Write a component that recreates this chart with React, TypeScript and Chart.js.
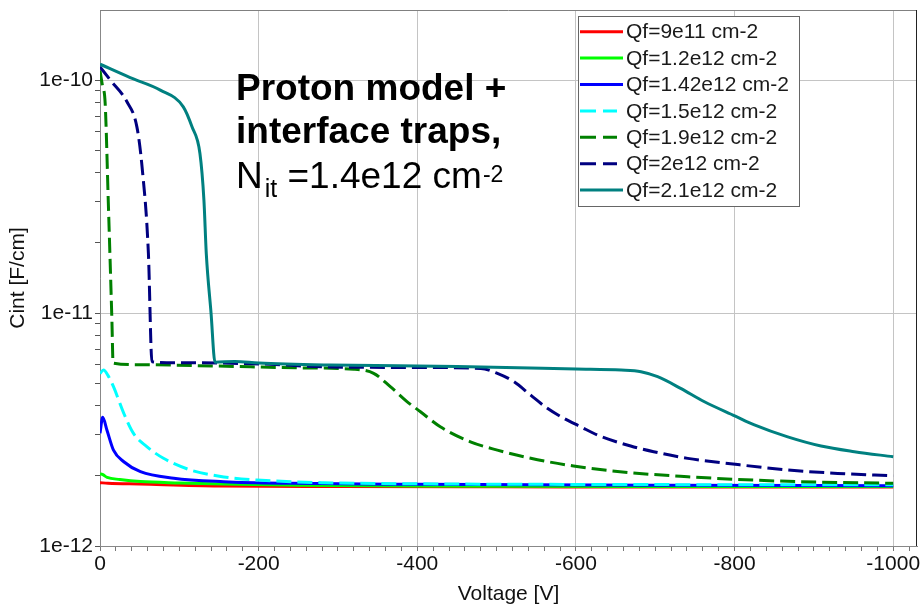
import React, { useEffect, useRef } from "react";
import { Chart, registerables } from "chart.js";

Chart.register(...registerables);

const FONT = '"Liberation Sans", Arial, Helvetica, sans-serif';

// ---- data (voltage in V, Cint in F/cm) ----
const voltsQf9e11 = [0, -10, -50, -150, -300, -500, -800, -1000];
const cintQf9e11 = [1.87e-12, 1.86e-12, 1.845e-12, 1.81e-12, 1.8e-12, 1.795e-12, 1.79e-12, 1.79e-12];

const voltsQf1p2e12 = [0, -3, -9, -25, -51, -100, -156, -250, -400, -700, -1000];
const cintQf1p2e12 = [2.04e-12, 2.03e-12, 1.97e-12, 1.93e-12, 1.89e-12, 1.865e-12, 1.845e-12, 1.825e-12, 1.81e-12, 1.8e-12, 1.8e-12];

const voltsQf1p42e12 = [0, -3.4, -8.7, -17, -30, -51, -93, -156, -240, -400, -700, -1000];
const cintQf1p42e12 = [3.05e-12, 3.57e-12, 3.15e-12, 2.58e-12, 2.3e-12, 2.085e-12, 1.953e-12, 1.888e-12, 1.858e-12, 1.84e-12, 1.825e-12, 1.815e-12];

const voltsQf1p5e12 = [0, -4.4, -10, -17, -30, -42, -59, -80, -114, -156, -198, -282, -400, -700, -1000];
const cintQf1p5e12 = [5.5e-12, 5.69e-12, 5.4e-12, 4.83e-12, 3.71e-12, 3.05e-12, 2.67e-12, 2.38e-12, 2.12e-12, 1.98e-12, 1.92e-12, 1.87e-12, 1.85e-12, 1.835e-12, 1.83e-12];

const voltsQf1p9e12 = [0, -3, -6.5, -10.5, -15, -16.5, -50, -150, -250, -320, -345, -366, -387, -404, -429, -467, -501, -543, -597, -669, -741, -801, -867, -1000];
const cintQf1p9e12 = [1.1e-10, 9.5e-11, 7.96e-11, 2.97e-11, 9.33e-12, 6.1e-12, 6.0e-12, 5.92e-12, 5.82e-12, 5.74e-12, 5.51e-12, 4.83e-12, 4.17e-12, 3.77e-12, 3.25e-12, 2.8e-12, 2.58e-12, 2.38e-12, 2.205e-12, 2.064e-12, 1.983e-12, 1.933e-12, 1.895e-12, 1.858e-12];

const voltsQf2e12 = [0, -13, -34, -46.5, -53, -61, -65.5, -100, -200, -290, -400, -480, -501, -522, -543, -564, -585, -606, -627, -669, -698, -741, -801, -867, -930, -1000];
const cintQf2e12 = [1.14e-10, 1.0e-10, 8.07e-11, 6.3e-11, 4.25e-11, 1.81e-11, 6.18e-12, 6.12e-12, 6.05e-12, 5.87e-12, 5.84e-12, 5.78e-12, 5.51e-12, 5.07e-12, 4.44e-12, 3.9e-12, 3.53e-12, 3.25e-12, 2.995e-12, 2.686e-12, 2.54e-12, 2.378e-12, 2.242e-12, 2.12e-12, 2.05e-12, 2.0e-12];

const voltsQf2p1e12 = [0, -38, -76, -105, -116, -126, -131, -134, -140, -145, -170, -200, -290, -450, -600, -657, -682, -703, -732, -762, -801, -825, -867, -909, -951, -1000];
const cintQf2p1e12 = [1.17e-10, 1.025e-10, 9.06e-11, 7.68e-11, 6.3e-11, 4.84e-11, 3.06e-11, 1.8e-11, 1.0e-11, 6.15e-12, 6.2e-12, 6.1e-12, 5.98e-12, 5.9e-12, 5.75e-12, 5.69e-12, 5.6e-12, 5.33e-12, 4.75e-12, 4.16e-12, 3.61e-12, 3.31e-12, 2.94e-12, 2.686e-12, 2.54e-12, 2.416e-12];

const seriesLabels = [
  "Qf=9e11 cm-2",
  "Qf=1.2e12 cm-2",
  "Qf=1.42e12 cm-2",
  "Qf=1.5e12 cm-2",
  "Qf=1.9e12 cm-2",
  "Qf=2e12 cm-2",
  "Qf=2.1e12 cm-2",
];
const seriesVolts = [voltsQf9e11, voltsQf1p2e12, voltsQf1p42e12, voltsQf1p5e12, voltsQf1p9e12, voltsQf2e12, voltsQf2p1e12];
const seriesCint = [cintQf9e11, cintQf1p2e12, cintQf1p42e12, cintQf1p5e12, cintQf1p9e12, cintQf2e12, cintQf2p1e12];

// styles
const seriesColors = ["#ff0000", "#00ff00", "#0000ff", "#00ffff", "#008000", "#000080", "#008080"];
const seriesDashed = [false, false, false, true, true, true, false];

// axes
const xMin = -1030;
const xMax = 0;
const xMinorStep = 20;
const xMajorStep = 200;
const yMin = 1e-12;
const yMax = 2e-10;
const yDecades = [-12, -11, -10];
const yMantissas = [1, 2, 3, 4, 5, 6, 7, 8, 9];
const xTitle = "Voltage [V]";
const yTitle = "Cint [F/cm]";

const annotationLine1 = "Proton model +";
const annotationLine2 = "interface traps,";
const annotationN = "N";
const annotationSub = "it";
const annotationMid = " =1.4e12 cm";
const annotationSup = "-2";

const isDecade = (v: number) => {
  if (!v || v <= 0) return false;
  const l = Math.log10(v);
  return Math.abs(l - Math.round(l)) < 1e-6;
};

const overlayPlugin = {
  id: "overlay",
  afterDraw(chart: any) {
    const ctx = chart.ctx as CanvasRenderingContext2D;
    const ca = chart.chartArea;
    ctx.save();
    // frame top / right
    ctx.lineWidth = 1;
    ctx.strokeStyle = "#808080";
    ctx.beginPath();
    ctx.moveTo(ca.left, ca.top + 0.5);
    ctx.lineTo(ca.right, ca.top + 0.5);
    ctx.stroke();
    ctx.strokeStyle = "#222";
    ctx.beginPath();
    ctx.moveTo(ca.right - 0.5, ca.top);
    ctx.lineTo(ca.right - 0.5, ca.bottom);
    ctx.stroke();

    // annotation text
    ctx.fillStyle = "#000";
    ctx.textAlign = "left";
    ctx.textBaseline = "alphabetic";
    ctx.font = `bold 37px ${FONT}`;
    ctx.fillText(annotationLine1, 236, 100);
    ctx.fillText(annotationLine2, 236, 143);
    let x = 236;
    ctx.font = `37px ${FONT}`;
    ctx.fillText(annotationN, x, 188);
    x += ctx.measureText(annotationN).width + 2;
    ctx.font = `25px ${FONT}`;
    ctx.fillText(annotationSub, x, 197);
    x += ctx.measureText(annotationSub).width;
    ctx.font = `37px ${FONT}`;
    ctx.fillText(annotationMid, x, 188);
    x += ctx.measureText(annotationMid).width + 1;
    ctx.font = `23px ${FONT}`;
    ctx.fillText(annotationSup, x, 182);

    // legend
    const lx = 578, ly = 16, lw = 221, lh = 190;
    ctx.fillStyle = "#fff";
    ctx.fillRect(lx, ly, lw, lh);
    ctx.strokeStyle = "#666";
    ctx.lineWidth = 1;
    ctx.strokeRect(lx + 0.5, ly + 0.5, lw, lh);
    const ds = chart.data.datasets;
    ctx.font = `21px ${FONT}`;
    ctx.textBaseline = "middle";
    for (let i = 0; i < ds.length; i++) {
      const cy = 31.7 + i * 26.4;
      ctx.strokeStyle = ds[i].borderColor;
      ctx.lineWidth = 3;
      const dashed = ds[i].borderDash && ds[i].borderDash.length > 0;
      ctx.setLineDash(dashed ? [16, 7] : []);
      ctx.beginPath();
      ctx.moveTo(580, cy);
      ctx.lineTo(dashed ? 617 : 623, cy);
      ctx.stroke();
      ctx.setLineDash([]);
      ctx.fillStyle = "#1a1a1a";
      ctx.fillText(ds[i].label, 626, cy + 1);
    }
    ctx.restore();
  },
};

export default function App() {
  const canvasRef = useRef<HTMLCanvasElement | null>(null);

  useEffect(() => {
    document.body.style.margin = "0";
    const canvas = canvasRef.current;
    if (!canvas) return;

    const datasets = seriesLabels.map((label, i) => ({
      label,
      data: seriesVolts[i].map((v, j) => ({ x: v, y: seriesCint[i][j] })),
      borderColor: seriesColors[i],
      backgroundColor: seriesColors[i],
      borderWidth: 3,
      borderDash: seriesDashed[i] ? [15, 6] : [],
      pointRadius: 0,
      fill: false,
      cubicInterpolationMode: "monotone" as const,
      order: seriesLabels.length - 1 - i,
    }));

    const yTickValues: number[] = [];
    yDecades.forEach((e) =>
      yMantissas.forEach((m) => {
        const v = m * Math.pow(10, e);
        if (v >= yMin && v < yMax) yTickValues.push(v);
      })
    );

    const chart = new Chart(canvas, {
      type: "line",
      data: { datasets },
      options: {
        responsive: false,
        animation: false,
        devicePixelRatio: 1,
        layout: { padding: { top: 10, right: 4, left: 0, bottom: 0 } },
        plugins: { legend: { display: false }, tooltip: { enabled: false } },
        scales: {
          x: {
            type: "linear",
            reverse: true,
            min: xMin,
            max: xMax,
            afterFit: (s: any) => {
              s.height = 61;
            },
            afterBuildTicks: (s: any) => {
              const t = [];
              for (let v = xMax; v >= xMin; v -= xMinorStep) t.push({ value: v });
              s.ticks = t.reverse();
            },
            ticks: {
              autoSkip: false,
              maxRotation: 0,
              padding: 1,
              color: "#111",
              font: { size: 21, family: FONT },
              callback: (v: any) => (Number(v) % xMajorStep === 0 ? String(v) : ""),
            },
            grid: {
              color: (c: any) => (c.tick && c.tick.value % xMajorStep === 0 ? "#c4c4c4" : "transparent"),
              tickColor: "#777",
              tickLength: 5,
            },
            border: { color: "#888", width: 1 },
            title: {
              display: true,
              text: xTitle,
              color: "#111",
              font: { size: 21, family: FONT },
              padding: { top: 0, bottom: 0 },
            },
          },
          y: {
            type: "logarithmic",
            min: yMin,
            max: yMax,
            afterFit: (s: any) => {
              s.width = 100;
              s.paddingTop = 0;
              s.paddingBottom = 0;
            },
            afterBuildTicks: (s: any) => {
              s.ticks = yTickValues.map((v) => ({ value: v, major: isDecade(v) }));
            },
            ticks: {
              autoSkip: false,
              padding: 2,
              color: "#111",
              font: { size: 21, family: FONT },
              callback: (v: any) => {
                const n = Number(v);
                return isDecade(n) ? `1e${Math.round(Math.log10(n))}` : "";
              },
            },
            grid: {
              color: (c: any) => (c.tick && isDecade(c.tick.value) ? "#c4c4c4" : "transparent"),
              tickColor: "#555",
              tickLength: 5,
            },
            border: { color: "#888", width: 1 },
            title: {
              display: true,
              text: yTitle,
              color: "#111",
              font: { size: 21, family: FONT },
              padding: { top: 6, bottom: 0 },
            },
          },
        },
      },
      plugins: [overlayPlugin],
    });

    return () => chart.destroy();
  }, []);

  return (
    <div style={{ width: 921, height: 607 }}>
      <canvas ref={canvasRef} width={921} height={607} style={{ display: "block" }} />
    </div>
  );
}
